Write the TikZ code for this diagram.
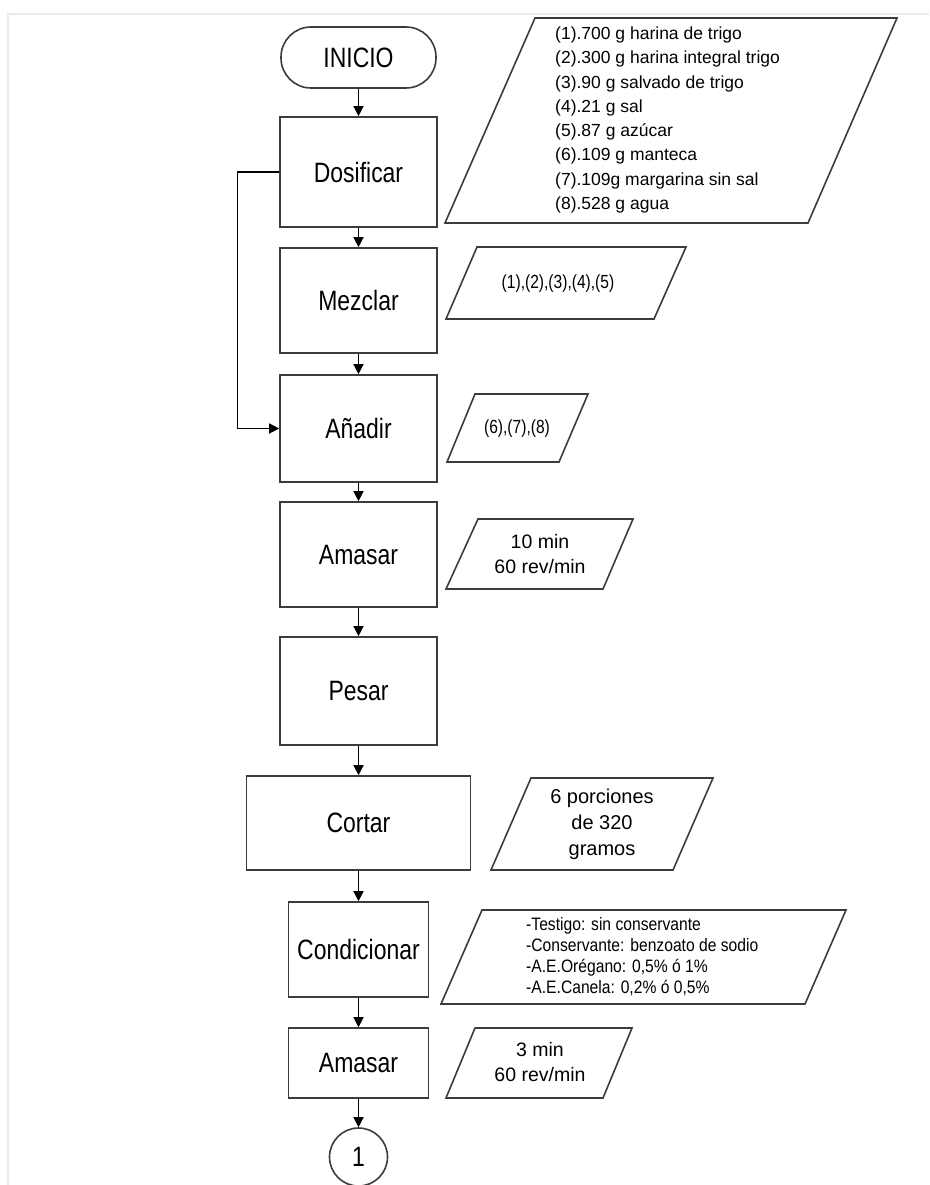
\documentclass[tikz,border=0pt]{standalone}
\usepackage{fontspec}
\setmainfont{Liberation Sans}
\newfontfamily\condfont[FakeStretch=0.82]{Liberation Sans}
\newfontfamily\condfontb[FakeStretch=0.87]{Liberation Sans}
\usetikzlibrary{arrows.meta}
\definecolor{boxgray}{RGB}{60,60,60}
\definecolor{framegray}{RGB}{235,235,235}
\begin{document}
\begin{tikzpicture}[x=1pt,y=-1pt,
  box/.style={draw=boxgray, line width=1.6pt, fill=white, inner sep=0pt, font=\condfont\fontsize{28}{32}\selectfont},
  para/.style={draw=boxgray, line width=1.6pt, line join=miter},
  lbl/.style={inner sep=0pt, align=center},
  arr/.style={line width=1.3pt, -{Triangle[length=10pt,width=10pt]}}
]
\useasboundingbox (0,0) rectangle (929,1185);
\draw[framegray, line width=1.2pt] (8,1185) -- (8,14) -- (929,14);

% main column
\node[box, rounded corners=30pt, minimum width=155pt, minimum height=61pt] (ini) at (358.5,57.5) {INICIO};
\node[box, minimum width=157pt, minimum height=110pt] (dos) at (358.5,172) {Dosificar};
\node[box, minimum width=157pt, minimum height=105pt] (mez) at (358.5,300.5) {Mezclar};
\node[box, minimum width=157pt, minimum height=107pt] (ana) at (358.5,428.5) {Añadir};
\node[box, minimum width=157pt, minimum height=105pt] (ama) at (358.5,554.5) {Amasar};
\node[box, minimum width=157pt, minimum height=108pt] (pes) at (358.5,691) {Pesar};
\node[box, minimum width=224pt, minimum height=94pt] (cor) at (358.5,823) {Cortar};
\node[box, minimum width=140pt, minimum height=95pt] (con) at (358.5,949.5) {Condicionar};
\node[box, minimum width=140pt, minimum height=70pt] (am2) at (358.5,1063) {Amasar};
\node[box, circle, minimum size=58pt] (c1) at (358.5,1157) {1};

% connectors
\draw[arr] (ini.south) -- (dos.north);
\draw[arr] (dos.south) -- (mez.north);
\draw[arr] (mez.south) -- (ana.north);
\draw[arr] (ana.south) -- (ama.north);
\draw[arr] (ama.south) -- (pes.north);
\draw[arr] (pes.south) -- (cor.north);
\draw[arr] (cor.south) -- (con.north);
\draw[arr] (con.south) -- (am2.north);
\draw[arr] (am2.south) -- (c1.north);
\draw[arr] (dos.west) -- ++(-42,0) |- (ana.west);

% data parallelograms
\draw[para] (535,18) -- (897,18) -- (808,223) -- (445,223) -- cycle;
\node[lbl, anchor=west, align=left, font=\fontsize{17.5}{24.3}\selectfont] (ingr) at (555,120) {(1).700 g harina de trigo\\(2).300 g harina integral trigo\\(3).90 g salvado de trigo\\(4).21 g sal\\(5).87 g azúcar\\(6).109 g manteca\\(7).109g margarina sin sal\\(8).528 g agua};

\draw[para] (477,247) -- (686,247) -- (654,319) -- (446,319) -- cycle;
\node[lbl, font=\condfont\fontsize{19}{22}\selectfont] (tmez) at (558,284) {(1),(2),(3),(4),(5)};

\draw[para] (475,394) -- (588,394) -- (559,462) -- (447,462) -- cycle;
\node[lbl, font=\condfont\fontsize{19}{22}\selectfont] (tana) at (517,429) {(6),(7),(8)};

\draw[para] (478,519) -- (633,519) -- (603,589) -- (446,589) -- cycle;
\node[lbl, font=\fontsize{19.5}{25}\selectfont] (tama) at (540,554.5) {10 min\\60 rev/min};

\draw[para] (531,778) -- (713,778) -- (673,870) -- (491,870) -- cycle;
\node[lbl, font=\fontsize{20}{26}\selectfont] (tcor) at (602,824) {6 porciones\\de 320\\gramos};

\draw[para] (482,910) -- (846,910) -- (805,1004) -- (441,1004) -- cycle;
\node[lbl, anchor=west, align=left, font=\condfontb\fontsize{18}{21}\selectfont] (tcon) at (526,956.5) {-Testigo: sin conservante\\-Conservante: benzoato de sodio\\-A.E.Orégano: 0,5\% ó 1\%\\-A.E.Canela: 0,2\% ó 0,5\%};

\draw[para] (475,1028) -- (632,1028) -- (603,1098) -- (446,1098) -- cycle;
\node[lbl, font=\fontsize{19.5}{25}\selectfont] (tam2) at (540,1062.5) {3 min\\60 rev/min};
\end{tikzpicture}
\end{document}
